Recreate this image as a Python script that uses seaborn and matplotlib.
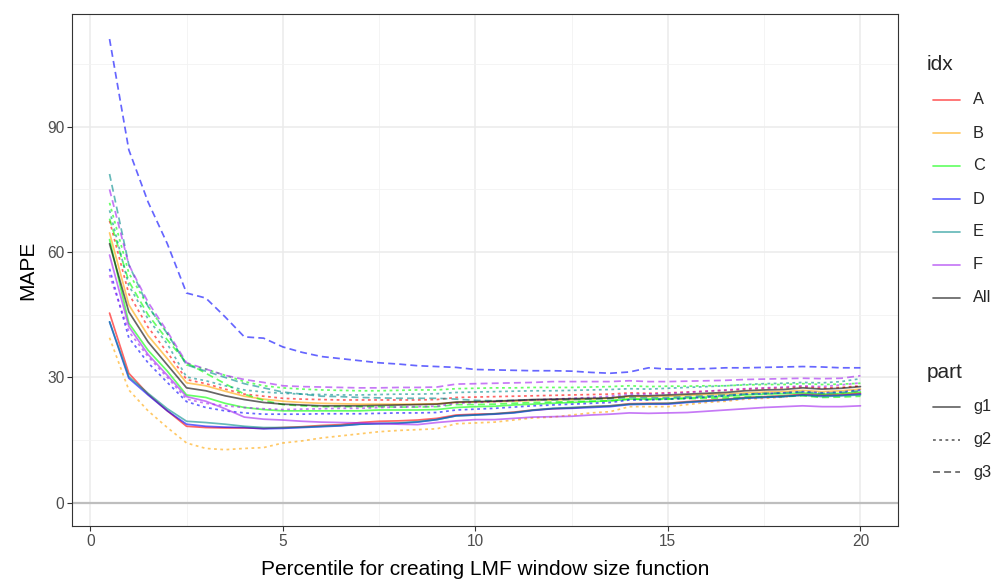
import numpy as np
import pandas as pd
import matplotlib
matplotlib.use("Agg")
import matplotlib.pyplot as plt
from matplotlib.lines import Line2D
import seaborn as sns

# ---------------- data ----------------
x_vals = [0.5, 1, 1.5, 2, 2.5, 3, 3.5, 4, 4.5, 5,
          5.5, 6, 6.5, 7, 7.5, 8, 8.5, 9, 9.5, 10,
          10.5, 11, 11.5, 12, 12.5, 13, 13.5, 14, 14.5, 15,
          15.5, 16, 16.5, 17, 17.5, 18, 18.5, 19, 19.5, 20]

idx_levels = ["A", "B", "C", "D", "E", "F", "All"]
part_levels = ["g1", "g2", "g3"]

A_g1 = [45.4, 31, 26, 22, 18.3, 18, 17.9, 17.9, 17.8, 18, 18.2, 18.5, 18.7, 19.2, 19.5, 19.6, 19.8, 20.2, 21, 21.2,
        21.3, 21.7, 22.2, 22.5, 22.7, 23, 23.2, 23.7, 23.8, 23.8, 24.2, 24.5, 24.8, 25.2, 25.4, 25.6, 26, 25.8, 25.9, 26.2]
A_g2 = [67.5, 50, 42, 36, 29.5, 28.5, 27.2, 26, 25.5, 25, 24.8, 24.7, 24.6, 24.6, 24.6, 24.6, 24.6, 24.7, 25.2, 25.3,
        25.4, 25.5, 25.6, 25.7, 25.8, 25.9, 26, 26.3, 26.2, 26.3, 26.5, 26.7, 26.9, 27.2, 27.4, 27.5, 27.8, 27.5, 27.6, 28]
B_g1 = [64.6, 47.4, 40, 34.5, 28.7, 28, 26.7, 25.5, 24.8, 24.3, 24, 23.8, 23.7, 23.6, 23.6, 23.6, 23.6, 23.7, 24, 24.1,
        24.2, 24.3, 24.5, 24.6, 24.7, 24.8, 25, 25.4, 25.4, 25.5, 25.7, 25.9, 26, 26.3, 26.5, 26.6, 26.9, 26.6, 26.8, 27.2]
B_g2 = [39.5, 27, 22, 18, 14.3, 13, 12.7, 13, 13.2, 14.3, 14.8, 15.5, 16, 16.5, 17, 17.3, 17.5, 17.7, 18.9, 19.1,
        19.3, 19.8, 20.3, 20.5, 21, 21.5, 21.8, 23, 23, 23, 23.5, 24, 24.3, 24.8, 25, 25.3, 25.8, 25.6, 26, 26.5]
C_g1 = [63, 43, 36.5, 31.5, 25.8, 25.2, 23.8, 22.8, 22.3, 22, 22, 22, 22, 22, 22.2, 22.2, 22.2, 22.3, 22.8, 23,
        23.1, 23.4, 23.6, 23.8, 24, 24.2, 24.4, 24.8, 24.8, 24.9, 25.1, 25.3, 25.5, 25.8, 26, 26.1, 26.3, 26, 26.2, 26.5]
C_g2 = [71.8, 55, 47, 40.5, 33, 32, 30.5, 29, 28, 27.5, 27.2, 27, 26.9, 26.8, 26.8, 26.9, 27, 27, 27.3, 27.4,
        27.5, 27.5, 27.6, 27.6, 27.6, 27.7, 27.8, 28, 27.8, 27.9, 27.9, 28, 28, 28.2, 28.3, 28.3, 28.5, 28.3, 28.4, 28.6]
C_g3 = [68, 53, 45, 39, 33.5, 31, 28.5, 26, 24.5, 23.5, 23.2, 23, 23, 23, 23, 22.9, 22.9, 23, 23.5, 23.5,
        23.6, 23.8, 24, 24.1, 24.2, 24.3, 24.4, 24.8, 24.7, 24.8, 24.9, 25, 25.1, 25.3, 25.4, 25.4, 25.6, 25.2, 25.3, 25.5]
D_g1 = [43.3, 29.8, 25.8, 22, 18.8, 18.3, 18.1, 18, 17.7, 17.8, 18, 18.2, 18.4, 18.8, 18.9, 19, 19.3, 19.9, 20.8, 21,
        21.2, 21.5, 22.1, 22.5, 22.6, 22.8, 23, 23.5, 23.6, 23.6, 24, 24.3, 24.6, 25, 25.2, 25.4, 25.8, 25.6, 25.7, 26]
D_g2 = [56, 39.5, 33.5, 28.8, 24.2, 22.8, 22, 21.5, 21.2, 21.2, 21.2, 21.3, 21.3, 21.3, 21.4, 21.5, 21.5, 21.6, 22.2, 22.4,
        22.6, 22.9, 23.2, 23.4, 23.6, 23.8, 24, 24.6, 24.6, 24.8, 25, 25.3, 25.6, 26, 26.1, 26.3, 26.6, 26.3, 26.5, 27]
D_g3 = [111, 84.5, 72, 62, 50.2, 49, 44.5, 39.7, 39.4, 37.3, 36, 35, 34.5, 34, 33.5, 33.2, 32.8, 32.6, 32.4, 31.9,
        31.8, 31.7, 31.6, 31.6, 31.5, 31.2, 31, 31.3, 32.3, 32, 32, 32.1, 32.3, 32.3, 32.4, 32.5, 32.6, 32.5, 32.3, 32.3]
E_g1 = [43.3, 30.2, 26.2, 22.5, 19.5, 19.2, 18.8, 18.3, 18, 18, 18.1, 18.3, 18.5, 18.8, 19, 19.1, 19.4, 19.9, 20.8, 21,
        21.3, 21.6, 22.2, 22.6, 22.8, 23, 23.2, 23.6, 23.7, 23.8, 24.1, 24.4, 24.7, 25.1, 25.3, 25.5, 25.7, 25.4, 25.6, 25.8]
E_g2 = [70, 52, 44, 38, 30.1, 29.2, 28, 27, 26.5, 26.2, 26, 25.9, 25.8, 25.8, 25.9, 26, 26, 26.1, 26.4, 26.5,
        26.6, 26.7, 26.8, 26.8, 26.9, 27, 27.1, 27.3, 27.2, 27.4, 27.6, 27.8, 28, 28.3, 28.5, 28.6, 28.8, 28.7, 29, 29.7]
E_g3 = [78.7, 57, 47, 40.5, 33, 31.5, 30, 28.5, 27.5, 26.5, 26, 25.5, 25.4, 25.2, 25.1, 25, 25, 25, 24.8, 24.5,
        24.4, 24.5, 24.6, 24.6, 24.7, 24.8, 24.9, 25.2, 25.1, 25.2, 25.4, 25.6, 25.8, 26, 26.2, 26.3, 26.5, 26.2, 26.4, 26.8]
F_g1 = [59.3, 42.2, 35.5, 30.5, 25.4, 24.3, 22.5, 20.5, 20, 19.8, 19.5, 19.3, 19.2, 19.1, 19, 18.8, 18.7, 19.2, 19.6, 19.9,
        19.9, 20.2, 20.5, 20.6, 20.7, 21, 21.2, 21.5, 21.4, 21.5, 21.6, 21.9, 22.2, 22.5, 22.8, 23, 23.2, 23, 23, 23.2]
F_g2 = [54.5, 41, 35, 30, 24.8, 23.8, 23.2, 22.8, 22.5, 22.3, 22.4, 22.5, 22.6, 22.6, 22.8, 22.9, 23, 23.1, 23.8, 24,
        24.2, 24.4, 24.6, 24.8, 25, 25.2, 25.5, 26, 26, 26.2, 26.4, 26.7, 27, 27.3, 27.5, 27.7, 28, 27.8, 28.2, 28.7]
F_g3 = [75, 57, 48, 41, 33.5, 32, 30.5, 29.5, 28.8, 28, 27.8, 27.7, 27.6, 27.5, 27.5, 27.6, 27.6, 27.7, 28.4, 28.5,
        28.6, 28.7, 28.8, 29, 29, 29, 29, 29.2, 29, 29, 29.1, 29.2, 29.3, 29.5, 29.6, 29.7, 29.8, 29.7, 29.8, 30.4]
All_g1 = [62, 45.7, 38.5, 33, 27.5, 26.8, 25.6, 24.7, 24, 23.6, 23.4, 23.2, 23.2, 23.2, 23.3, 23.4, 23.5, 23.6, 24.1, 24.2,
          24.3, 24.5, 24.7, 24.8, 24.9, 25, 25.1, 25.6, 25.6, 25.8, 26, 26.2, 26.4, 26.8, 27, 27.1, 27.5, 27.2, 27.4, 27.8]

series = [
    ("A", "g1", A_g1), ("A", "g2", A_g2),
    ("B", "g1", B_g1), ("B", "g2", B_g2),
    ("C", "g1", C_g1), ("C", "g2", C_g2), ("C", "g3", C_g3),
    ("D", "g1", D_g1), ("D", "g2", D_g2), ("D", "g3", D_g3),
    ("E", "g1", E_g1), ("E", "g2", E_g2), ("E", "g3", E_g3),
    ("F", "g1", F_g1), ("F", "g2", F_g2), ("F", "g3", F_g3),
    ("All", "g1", All_g1),
]

rows = []
for idx, part, vals in series:
    for xv, yv in zip(x_vals, vals):
        rows.append({"idx": idx, "part": part, "x": xv, "MAPE": yv})
df = pd.DataFrame(rows)
df["idx"] = pd.Categorical(df["idx"], categories=idx_levels, ordered=True)
df["part"] = pd.Categorical(df["part"], categories=part_levels, ordered=True)

palette = {"A": "#FF0000", "B": "#FFA500", "C": "#00FF00", "D": "#0000FF",
           "E": "#008B8B", "F": "#A020F0", "All": "#000000"}
dashes = {"g1": "", "g2": (1.6, 2.0), "g3": (4.0, 2.4)}

# ---------------- figure ----------------
sns.set_theme(style="white")
plt.rcParams["font.family"] = ["Liberation Sans", "DejaVu Sans"]

TITLE_FS = 15
TICK_FS = 11.2
LEG_FS = 11.8

W, H = 1003, 579
fig = plt.figure(figsize=(W / 100, H / 100), dpi=100)
L, R, T, B = 72, 898, 14, 526
ax = fig.add_axes([L / W, 1 - B / H, (R - L) / W, (B - T) / H])
ax.set_facecolor("white")

ax.set_xlim(-0.475, 20.975)
ax.set_ylim(-5.57, 117.0)
ax.set_xticks([0, 5, 10, 15, 20])
ax.set_yticks([0, 30, 60, 90])
ax.set_xticks([2.5, 7.5, 12.5, 17.5], minor=True)
ax.set_yticks([15, 45, 75, 105], minor=True)
ax.grid(True, which="major", color="#EBEBEB", linewidth=1.1)
ax.grid(True, which="minor", color="#F2F2F2", linewidth=0.6)
ax.set_axisbelow(True)

ax.axhline(0, color="#BEBEBE", linewidth=1.6, zorder=1.5)

sns.lineplot(data=df, x="x", y="MAPE", hue="idx", style="part",
             palette=palette, dashes=dashes, hue_order=idx_levels,
             style_order=part_levels, estimator=None, sort=True,
             alpha=0.6, linewidth=1.25, legend=False, ax=ax)

for s in ax.spines.values():
    s.set_visible(True)
    s.set_color("#333333")
    s.set_linewidth(0.8)

ax.tick_params(axis="both", which="major", length=3.5, width=0.8, color="#333333",
               labelcolor="#4D4D4D", labelsize=TICK_FS, pad=2, bottom=True, left=True)
ax.tick_params(axis="both", which="minor", length=0)
ax.set_xlabel("Percentile for creating LMF window size function", fontsize=TITLE_FS,
              color="black", labelpad=8)
ax.set_ylabel("MAPE", fontsize=TITLE_FS, color="black", labelpad=7)

# ---------------- legends ----------------
def fx(px):
    return px / W

def fy(py):
    return 1 - py / H

fig.text(fx(927), fy(64), "idx", fontsize=TITLE_FS, va="center", ha="left")
for i, lev in enumerate(idx_levels):
    yy = 100 + 33 * i
    fig.add_artist(Line2D([fx(933), fx(960)], [fy(yy), fy(yy)], color=palette[lev],
                          alpha=0.6, linewidth=1.25))
    fig.text(fx(973), fy(yy), lev, fontsize=LEG_FS, va="center", ha="left")

fig.text(fx(927), fy(373), "part", fontsize=TITLE_FS, va="center", ha="left")
for i, lev in enumerate(part_levels):
    yy = 407 + 32.5 * i
    ln = Line2D([fx(933), fx(960)], [fy(yy), fy(yy)], color="#000000", alpha=0.6, linewidth=1.25)
    if dashes[lev]:
        ln.set_dashes(dashes[lev])
    fig.add_artist(ln)
    fig.text(fx(973), fy(yy), lev, fontsize=LEG_FS, va="center", ha="left")

fig.savefig("out.png", dpi=100, facecolor="white")
